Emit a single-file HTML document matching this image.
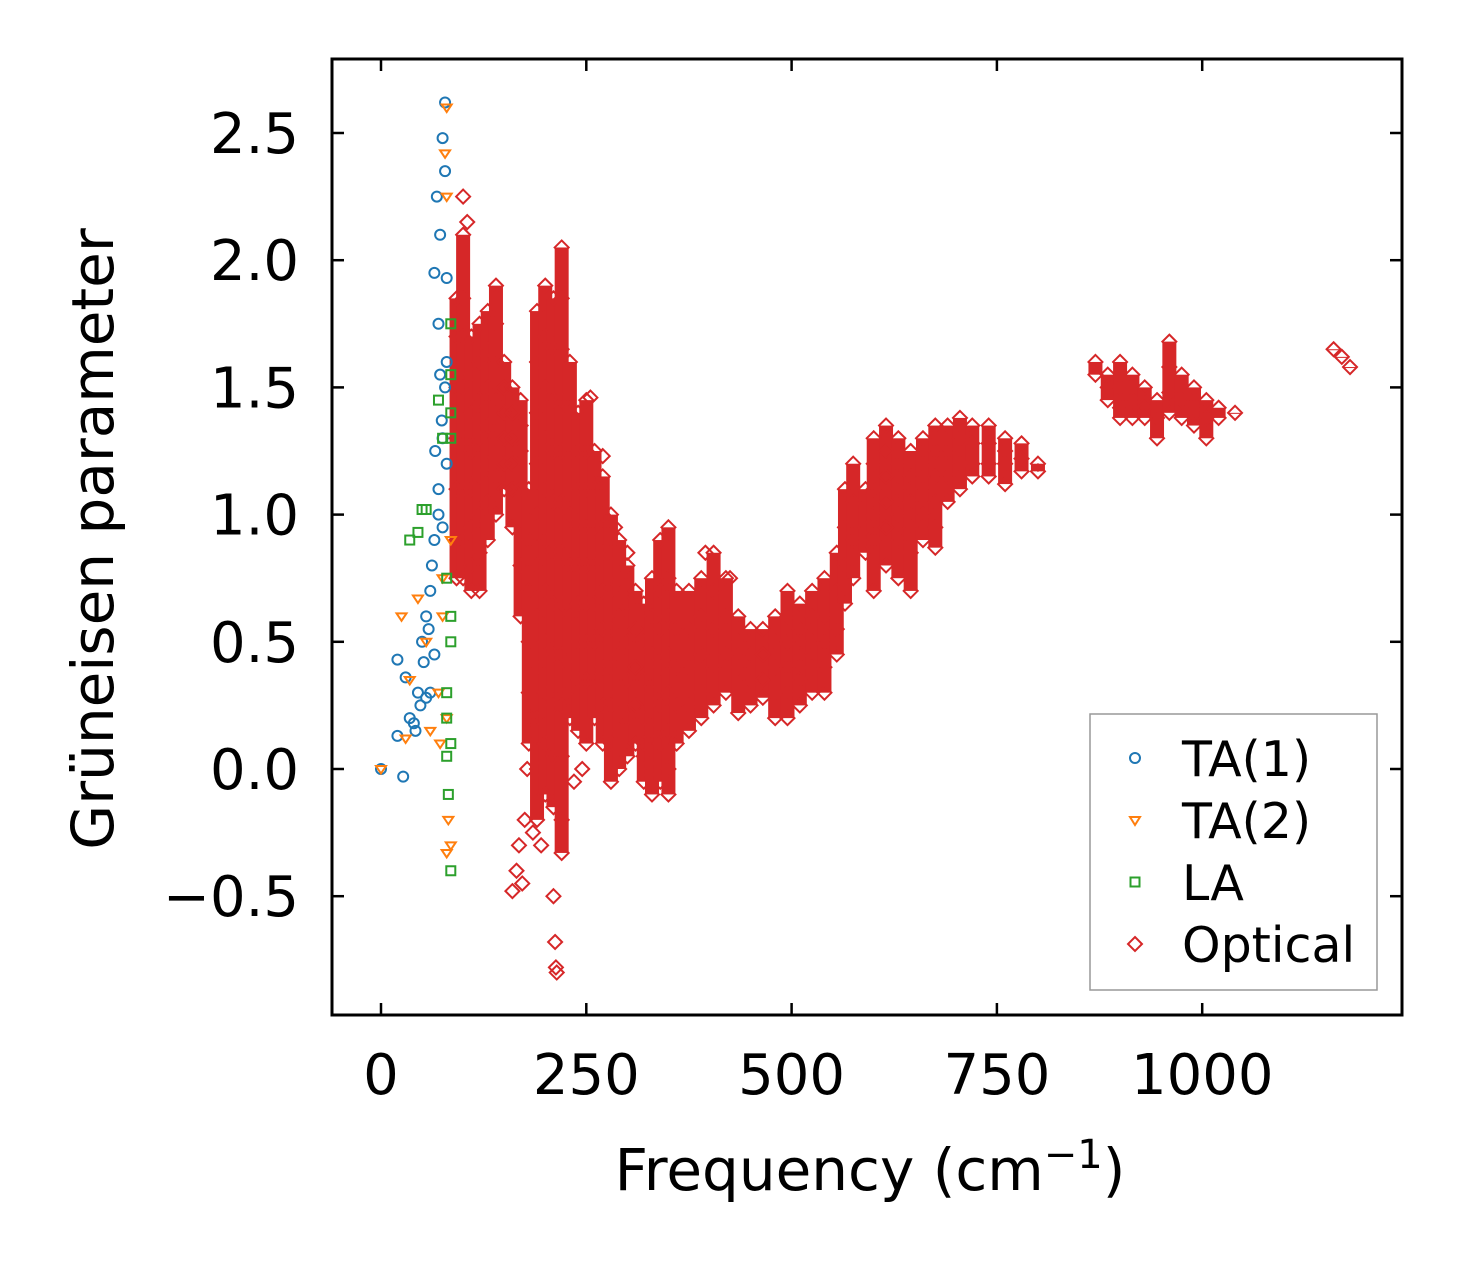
<!DOCTYPE html>
<html><head><meta charset="utf-8"><style>
html,body{margin:0;padding:0;background:#fff;}
body{position:relative;}
svg text{font-family:"DejaVu Sans","Liberation Sans",sans-serif;fill:#000;}
#chart{position:absolute;left:0;top:0;}
</style></head><body>
<svg id="chart" width="1462" height="1264" xmlns="http://www.w3.org/2000/svg">
<rect width="1462" height="1264" fill="#fff"/>
<g id="marks"></g>
<g id="axes"></g>
</svg>
<script>
const xTicks = [0, 250, 500, 750, 1000];
const xTickLabels = ["0", "250", "500", "750", "1000"];
const yTicks = [-0.5, 0, 0.5, 1.0, 1.5, 2.0, 2.5];
const yTickLabels = ["\u22120.5", "0.0", "0.5", "1.0", "1.5", "2.0", "2.5"];

const ta1Freq = [0,20,27,20,30,40,45,50,55,60,65,70,75,80,70,65,72,68,78,75,78,80,72,60,65,75,80,78,48,55,62,70,58,35,42,52,66,74];
const ta1Gamma = [0,0.13,-0.03,0.43,0.36,0.18,0.3,0.5,0.6,0.7,0.9,1.1,1.3,1.6,1.75,1.95,2.1,2.25,2.35,2.48,2.62,1.93,1.55,0.3,0.45,0.95,1.2,1.5,0.25,0.28,0.8,1.0,0.55,0.2,0.15,0.42,1.25,1.37];
const ta2Freq = [0,25,35,30,45,55,70,75,80,82,85,80,78,80,75,85,80,72,60];
const ta2Gamma = [0,0.6,0.35,0.12,0.67,0.5,0.3,0.75,0.2,-0.2,-0.3,2.6,2.42,2.25,0.6,0.9,-0.33,0.1,0.15];
const laFreq = [35,50,55,70,75,85,85,80,85,80,85,82,85,85,80,85,85,45,80];
const laGamma = [0.9,1.02,1.02,1.45,1.3,1.75,1.4,0.75,0.5,0.3,0.1,-0.1,-0.4,0.6,0.2,1.3,1.55,0.93,0.05];

const optFreq = [92,100,110,120,130,140,150,160,170,180,190,200,210,220,230,240,250,260,270,280,290,300,310,320,330,340,350,360,375,390,405,420,435,450,465,480,495,510,525,540,555,565,575,590,600,615,630,645,660,675,690,705,720,740,760,780,800,870,885,900,915,930,945,960,975,990,1005,1020,1040,1160,1170,1180];
const optGamma = [
[1.85,1.7,1.5,1.3,1.1,0.9,0.75],
[2.1,1.85,1.7,1.5,1.3,1.1,0.9,0.75],
[1.7,1.55,1.4,1.25,1.1,0.95,0.8,0.7],
[1.75,1.6,1.45,1.3,1.15,1.0,0.85,0.7],
[1.8,1.65,1.5,1.35,1.2,1.05,0.9],
[1.9,1.75,1.6,1.45,1.3,1.15,1.0],
[1.6,1.5,1.4,1.3,1.2,1.1],
[1.5,1.4,1.3,1.2,1.1,0.95],
[1.45,1.35,1.25,1.1,0.8,0.6],
[1.1,0.9,0.7,0.5,0.3,0.1],
[1.8,1.6,1.4,1.2,1.0,0.8,0.6,0.4,0.2,0.0,-0.2],
[1.9,1.7,1.5,1.3,1.1,0.9,0.7,0.5,0.3,0.1,-0.1],
[1.85,1.65,1.45,1.25,1.05,0.85,0.65,0.45,0.25,0.05,-0.15],
[2.05,1.85,1.65,1.45,1.25,1.05,0.85,0.65,0.45,0.25,0.05,-0.2,-0.33],
[1.6,1.4,1.2,1.0,0.8,0.6,0.4,0.2],
[1.4,1.25,1.1,0.95,0.8,0.65,0.5,0.35,0.15],
[1.45,1.25,1.1,0.95,0.8,0.65,0.5,0.35,0.1],
[1.25,1.1,0.95,0.8,0.65,0.5,0.35,0.2],
[1.15,1.0,0.85,0.7,0.55,0.4,0.25,0.1],
[1.0,0.85,0.7,0.55,0.4,0.25,0.1,-0.05],
[0.9,0.75,0.6,0.45,0.3,0.15,0.0],
[0.8,0.65,0.5,0.35,0.2,0.05],
[0.7,0.55,0.4,0.25,0.1],
[0.65,0.5,0.35,0.2,0.05,-0.05],
[0.75,0.6,0.45,0.3,0.15,0.0,-0.1],
[0.9,0.7,0.55,0.4,0.25,0.1,-0.05],
[0.95,0.75,0.6,0.45,0.3,0.15,0.0,-0.1],
[0.7,0.55,0.4,0.25,0.1],
[0.7,0.55,0.4,0.25,0.15],
[0.75,0.6,0.45,0.3,0.2],
[0.85,0.7,0.55,0.4,0.25],
[0.75,0.6,0.45,0.3],
[0.6,0.5,0.4,0.3,0.22],
[0.55,0.45,0.35,0.25],
[0.55,0.45,0.35,0.28],
[0.6,0.5,0.4,0.3,0.2],
[0.7,0.6,0.5,0.4,0.3,0.2],
[0.65,0.55,0.45,0.35,0.25],
[0.7,0.6,0.5,0.4,0.3],
[0.75,0.6,0.5,0.4,0.3],
[0.85,0.7,0.55,0.45],
[1.1,0.95,0.8,0.65],
[1.2,1.05,0.9,0.75],
[1.1,0.95,0.85],
[1.3,1.2,1.1,1.0,0.9,0.7],
[1.35,1.25,1.15,1.05,0.95,0.8],
[1.3,1.2,1.1,1.0,0.9,0.75],
[1.25,1.15,1.05,0.95,0.85,0.7],
[1.3,1.2,1.1,1.0,0.9],
[1.35,1.25,1.15,1.05,0.95,0.87],
[1.35,1.25,1.15,1.05],
[1.38,1.3,1.2,1.1],
[1.35,1.28,1.2,1.15],
[1.35,1.28,1.2,1.15],
[1.3,1.25,1.2,1.12],
[1.28,1.22,1.17],
[1.2,1.17],
[1.6,1.55],
[1.55,1.5,1.45],
[1.6,1.5,1.42,1.38],
[1.55,1.45,1.38],
[1.5,1.42,1.38],
[1.45,1.38,1.3],
[1.68,1.58,1.48,1.4],
[1.55,1.45,1.38],
[1.5,1.42,1.35],
[1.45,1.38,1.3],
[1.42,1.38],
[1.4],
[1.65],[1.62],[1.58]
];
const outFreq = [100,105,165,168,172,175,160,178,185,182,195,210,213,212,214,225,235,245,255,270,285,300,320,395,425];
const outGamma = [2.25,2.15,-0.4,-0.3,-0.45,-0.2,-0.48,0.0,-0.25,0.2,-0.3,-0.5,-0.78,-0.68,-0.8,0.3,-0.05,0.0,1.46,1.23,0.95,0.85,0.1,0.85,0.75];

const X0=381, XS=205.3/250, Y0=769, YS=254.4;
function sx(v){return X0+v*XS;}
function sy(v){return Y0-v*YS;}
const NS="http://www.w3.org/2000/svg";
const marks=document.getElementById('marks');
const axes=document.getElementById('axes');
function mk(tag,attrs,parent){const e=document.createElementNS(NS,tag);for(const k in attrs)e.setAttribute(k,attrs[k]);parent.appendChild(e);return e;}

const clip=mk('clipPath',{id:'pc'},document.getElementById('chart'));
mk('rect',{x:332,y:59,width:1070,height:956},clip);
marks.setAttribute('clip-path','url(#pc)');

optFreq.forEach((f,i)=>{
  const ys=optGamma[i];
  const hi=Math.max(...ys), lo=Math.min(...ys);
  const b=mk('rect',{x:sx(f)-7,y:sy(hi),width:14,height:Math.max(1,sy(lo)-sy(hi)),fill:'#d62728'},marks);
  
  
});
function diamond(x,y,s){return `M${x},${y-s}L${x+s},${y}L${x},${y+s}L${x-s},${y}Z`;}
optFreq.forEach((f,i)=>{
  optGamma[i].forEach(g=>{
    const p=mk('path',{d:diamond(sx(f),sy(g),7),fill:'none',stroke:'#d62728','stroke-width':2},marks);
    
    
  });
});
outFreq.forEach((f,i)=>{
  const p=mk('path',{d:diamond(sx(f),sy(outGamma[i]),7),fill:'none',stroke:'#d62728','stroke-width':2},marks);
  
  
});
ta1Freq.forEach((f,i)=>{
  const c=mk('circle',{cx:sx(f),cy:sy(ta1Gamma[i]),r:5,fill:'none',stroke:'#1f77b4','stroke-width':2},marks);
  
  
});
function tri(x,y,s){return `M${x-s},${y-s*0.6}L${x+s},${y-s*0.6}L${x},${y+s*0.9}Z`;}
ta2Freq.forEach((f,i)=>{
  const p=mk('path',{d:tri(sx(f),sy(ta2Gamma[i]),5),fill:'none',stroke:'#ff7f0e','stroke-width':2},marks);
  
  
});
laFreq.forEach((f,i)=>{
  const p=mk('rect',{x:sx(f)-4.5,y:sy(laGamma[i])-4.5,width:9,height:9,fill:'none',stroke:'#2ca02c','stroke-width':2},marks);
  
  
});

const fr=mk('rect',{x:332,y:59,width:1070,height:956,fill:'none',stroke:'#000','stroke-width':3},axes);


xTicks.forEach((t,i)=>{
  const x=sx(t);
  mk('line',{x1:x,y1:1015,x2:x,y2:1003,stroke:'#000','stroke-width':2.5},axes);
  mk('line',{x1:x,y1:59,x2:x,y2:71,stroke:'#000','stroke-width':2.5},axes);
  const tx=mk('text',{x:x,y:1094,'font-size':56,'text-anchor':'middle'},axes);
  tx.textContent=xTickLabels[i];
  
  
});
yTicks.forEach((t,i)=>{
  const y=sy(t);
  mk('line',{x1:332,y1:y,x2:344,y2:y,stroke:'#000','stroke-width':2.5},axes);
  mk('line',{x1:1402,y1:y,x2:1390,y2:y,stroke:'#000','stroke-width':2.5},axes);
  const tx=mk('text',{x:299,y:y+20,'font-size':56,'text-anchor':'end'},axes);
  tx.textContent=yTickLabels[i];
  
  
});
</script>
<svg style="position:absolute;left:0;top:0" width="1462" height="1264" xmlns="http://www.w3.org/2000/svg">
<text x="870" y="1190" font-size="58" text-anchor="middle">Frequency (cm<tspan font-size="40" dy="-22">−1</tspan><tspan dy="22">)</tspan></text>
<text x="0" y="0" font-size="58" text-anchor="middle" transform="translate(113,539) rotate(-90)">Grüneisen parameter</text>
<g>
<rect x="1090" y="714" width="287" height="276" fill="#fff" fill-opacity="0.8" stroke="#999" stroke-width="1.5"/>
<g><circle cx="1135" cy="758" r="5" fill="none" stroke="#1f77b4" stroke-width="2"/><text x="1182" y="776" font-size="49">TA(1)</text></g>
<g><path d="M1130,817L1140,817L1135,825Z" fill="none" stroke="#ff7f0e" stroke-width="2"/><text x="1182" y="838" font-size="49">TA(2)</text></g>
<g><rect x="1130.5" y="877.5" width="9" height="9" fill="none" stroke="#2ca02c" stroke-width="2"/><text x="1182" y="900" font-size="49">LA</text></g>
<g><path d="M1135,937L1142,944L1135,951L1128,944Z" fill="none" stroke="#d62728" stroke-width="2"/><text x="1182" y="962" font-size="49">Optical</text></g>
</g>
</svg>
</body></html>
